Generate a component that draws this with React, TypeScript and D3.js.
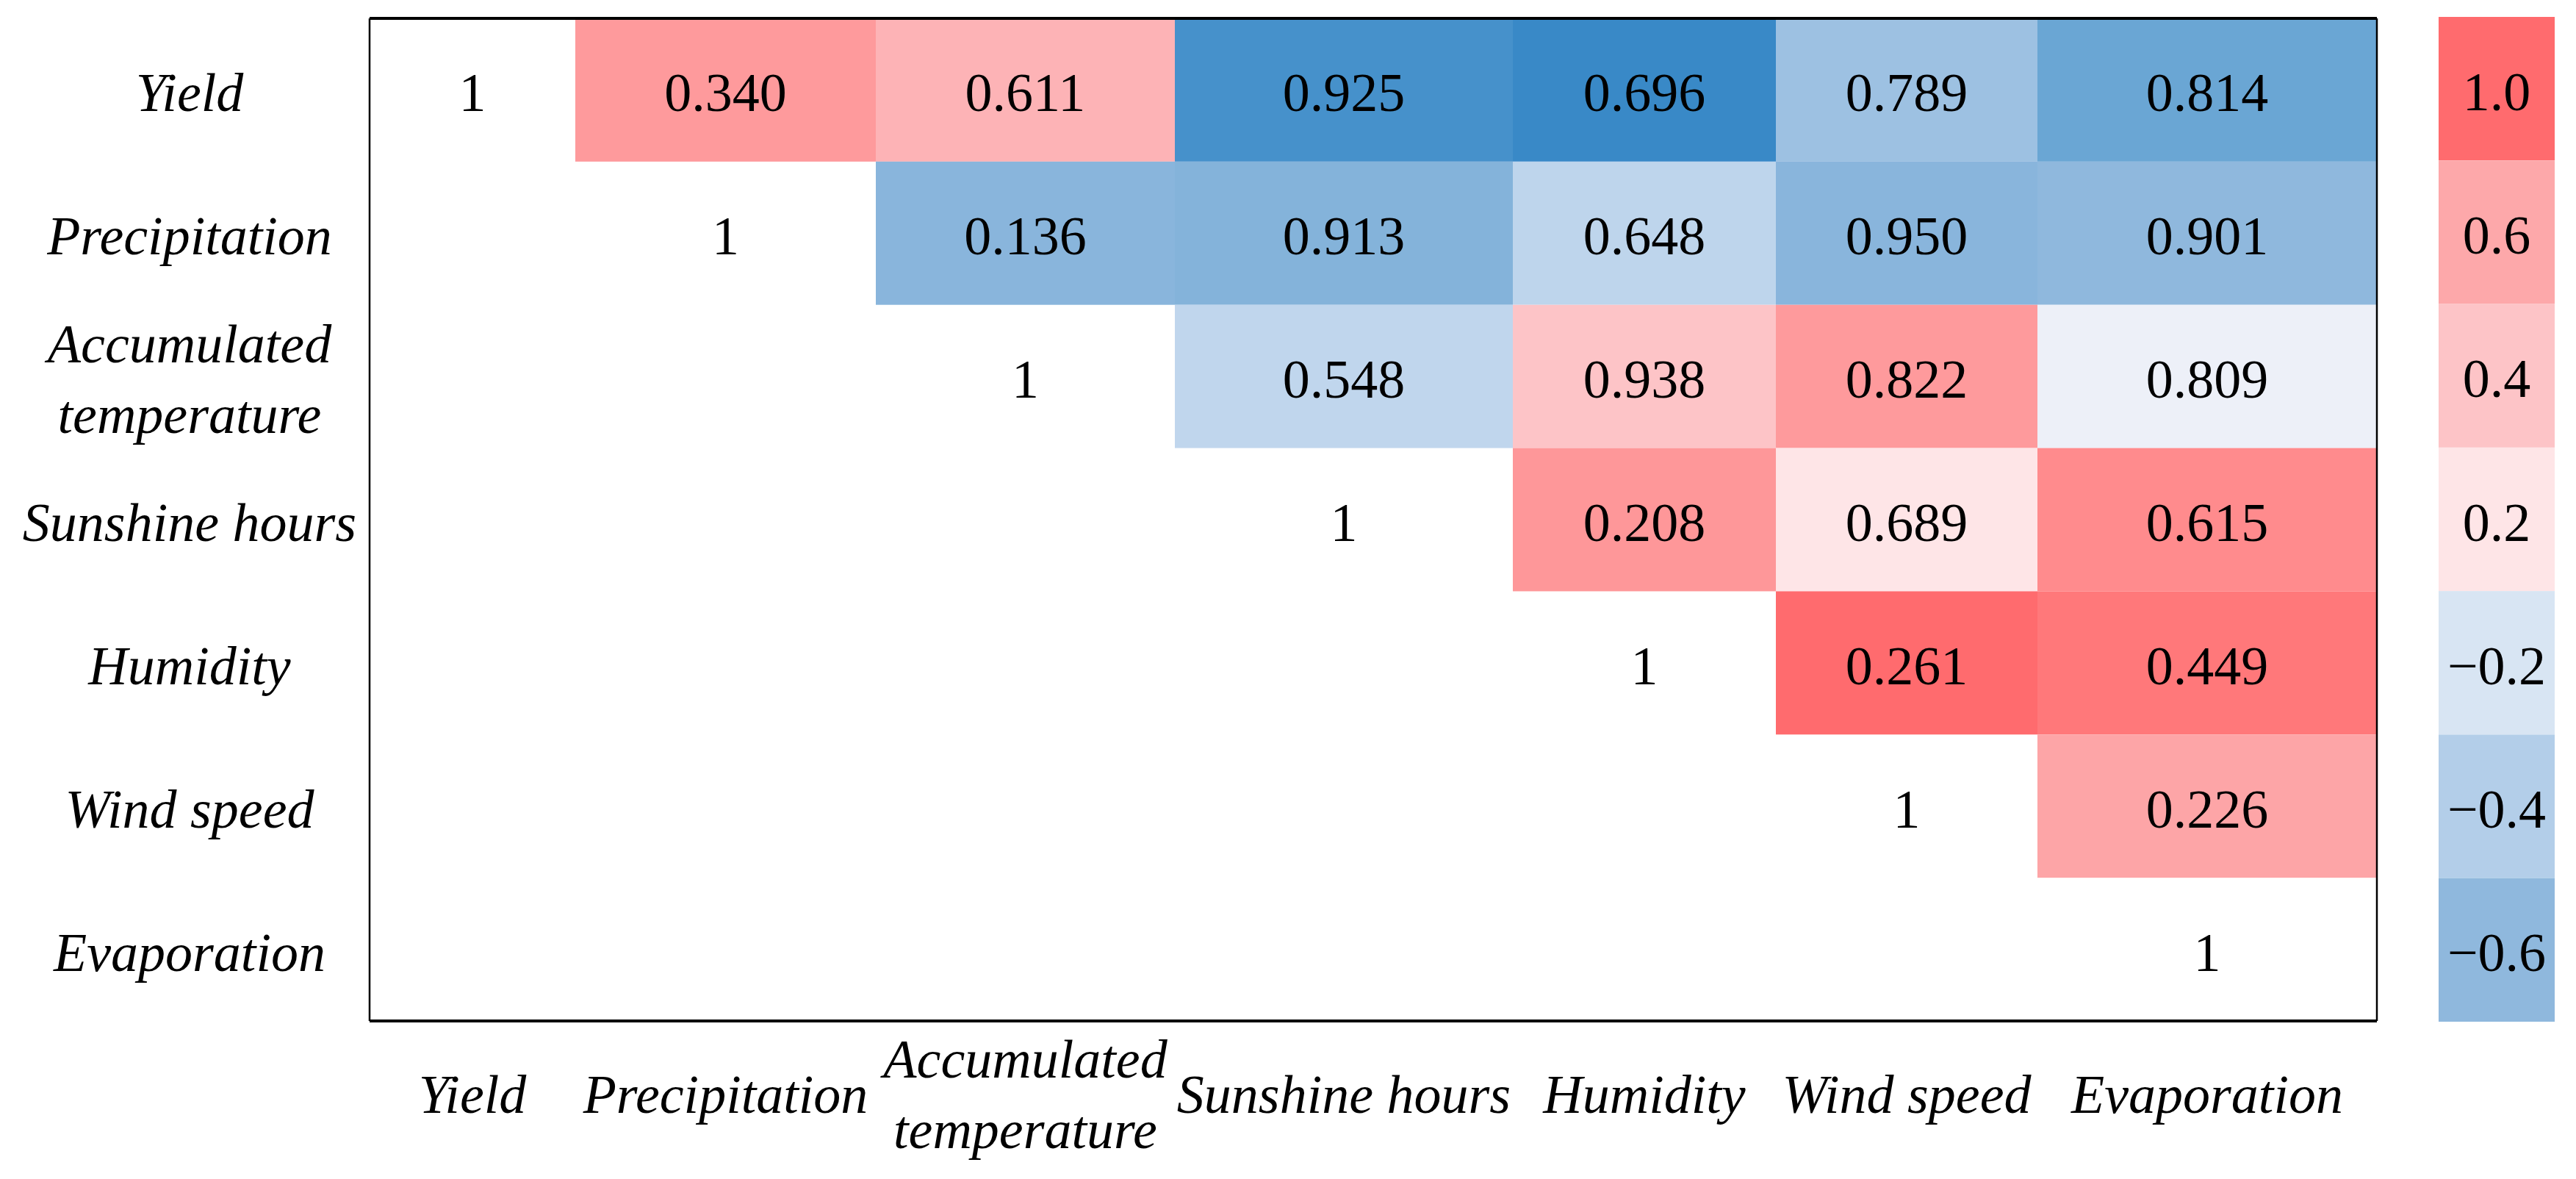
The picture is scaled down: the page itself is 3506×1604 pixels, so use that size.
import * as d3 from 'd3'
import React from 'react'

const variables = ['Yield', 'Precipitation', 'Accumulated temperature', 'Sunshine hours', 'Humidity', 'Wind speed', 'Evaporation']

// printed coefficients, upper triangle: row i holds columns i+1 .. n-1
const yieldRow = [0.340, 0.611, 0.925, 0.696, 0.789, 0.814]
const precipitationRow = [0.136, 0.913, 0.648, 0.950, 0.901]
const temperatureRow = [0.548, 0.938, 0.822, 0.809]
const sunshineRow = [0.208, 0.689, 0.615]
const humidityRow = [0.261, 0.449]
const windRow = [0.226]
const evaporationRow: number[] = []

const yieldShade = [0.7, 0.52, -0.93, -0.98, -0.52, -0.8]
const precipitationShade = [-0.63, -0.66, -0.34, -0.63, -0.6]
const temperatureShade = [-0.33, 0.4, 0.7, -0.05]
const sunshineShade = [0.72, 0.2, 0.8]
const humidityShade = [1.0, 0.92]
const windShade = [0.62]
const evaporationShade: number[] = []

const legendLabels = ['1.0', '0.6', '0.4', '0.2', '\u22120.2', '\u22120.4', '\u22120.6']
const legendValues = [1.0, 0.6, 0.4, 0.2, -0.2, -0.4, -0.6]

const printedRows = [yieldRow, precipitationRow, temperatureRow, sunshineRow, humidityRow, windRow, evaporationRow]
const shadeRows = [yieldShade, precipitationShade, temperatureShade, sunshineShade, humidityShade, windShade, evaporationShade]

// layout
const W = 3506, H = 1604
const colWidths = [280, 409, 407, 460, 358, 356, 462]
const left = 503, top = 25, bottom = 1389
const font = 'Liberation Serif, Times New Roman, serif'
const fs = 74

const color = d3.scaleLinear<string>()
  .domain([-1, -0.8, -0.6, -0.4, -0.2, 0, 0.2, 0.4, 0.6, 0.8, 1])
  .range(['#3386c6', '#6aa6d4', '#8fb8dd', '#b3cee9', '#d8e5f3', '#f4f4f9', '#fee5e7', '#fdc4c7', '#fda8aa', '#ff8b8d', '#ff6b6e'])
  .clamp(true)

const lines = (s: string) => (s.length > 16 ? s.split(' ') : [s])

export default function App() {
  React.useEffect(() => { document.body.style.margin = '0' }, [])

  const
    edges = [0, ...Array.from(d3.cumsum(colWidths))],
    total = edges[edges.length - 1],
    xs = d3.scaleLinear().domain([0, total]).range([left, left + total]),
    x0 = (i: number) => xs(edges[i]),
    x1 = (i: number) => xs(edges[i + 1]),
    xc = (i: number) => (x0(i) + x1(i)) / 2,
    right = x1(variables.length - 1),
    y = d3.scaleBand().domain(variables).range([top, bottom]),
    yc = (v: string) => y(v)! + y.bandwidth() / 2,
    legend = d3.scaleBand().domain(legendLabels).range([23, 1390]),
    legendX = 3319, legendW = 158,
    fmt = d3.format('.3f')

  const cells: JSX.Element[] = []
  printedRows.forEach((row, i) => {
    const v = variables[i]
    cells.push(
      <text key={`d${i}`} x={xc(i)} y={yc(v) + 29} textAnchor='middle' fontSize={fs} fontFamily={font}>1</text>
    )
    row.forEach((val, k) => {
      const j = i + 1 + k
      cells.push(
        <g key={`c${i}-${j}`}>
          <rect x={x0(j)} y={y(v)} width={x1(j) - x0(j)} height={y.bandwidth()} fill={color(shadeRows[i][k])} />
          <text x={xc(j)} y={yc(v) + 29} textAnchor='middle' fontSize={fs} fontFamily={font}>{fmt(val)}</text>
        </g>
      )
    })
  })

  return (
    <svg width={W} height={H} style={{ display: 'block', background: '#fff' }}>
      {cells}
      <line x1={left} x2={right} y1={top} y2={top} stroke='#000' strokeWidth={4} />
      <line x1={left} x2={right} y1={bottom} y2={bottom} stroke='#000' strokeWidth={4} />
      <line x1={left} x2={left} y1={top} y2={bottom} stroke='#000' strokeWidth={2.5} />
      <line x1={right} x2={right} y1={top} y2={bottom} stroke='#000' strokeWidth={2.5} />
      {variables.map((v) => {
        const ls = lines(v)
        return (
          <text key={`yl${v}`} x={258} y={yc(v) + 29 - (ls.length - 1) * 48} textAnchor='middle' fontSize={fs} fontFamily={font} fontStyle='italic'>
            {ls.map((l, k) => <tspan key={k} x={258} dy={k === 0 ? 0 : 96}>{l}</tspan>)}
          </text>
        )
      })}
      {variables.map((v, i) => {
        const ls = lines(v)
        return (
          <text key={`xl${v}`} x={xc(i)} y={1514 - (ls.length - 1) * 48} textAnchor='middle' fontSize={fs} fontFamily={font} fontStyle='italic'>
            {ls.map((l, k) => <tspan key={k} x={xc(i)} dy={k === 0 ? 0 : 96}>{l}</tspan>)}
          </text>
        )
      })}
      {legendLabels.map((l, i) => (
        <g key={`lg${l}`}>
          <rect x={legendX} y={legend(l)} width={legendW} height={legend.bandwidth()} fill={color(legendValues[i])} />
          <text x={legendX + legendW / 2} y={legend(l)! + legend.bandwidth() / 2 + 29} textAnchor='middle' fontSize={fs} fontFamily={font}>{l}</text>
        </g>
      ))}
    </svg>
  )
}
